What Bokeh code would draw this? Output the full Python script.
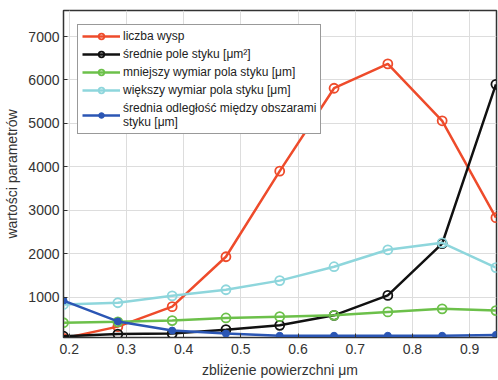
from bokeh.plotting import figure
from bokeh.models import Range1d, FixedTicker
from bokeh.embed import file_html
from bokeh.resources import INLINE

x = [0.19, 0.285, 0.38, 0.474, 0.568, 0.663, 0.757, 0.852, 0.946]
liczba_wysp = [50, 320, 780, 1930, 3900, 5810, 6370, 5060, 2830]
srednie_pole = [100, 150, 160, 250, 350, 580, 1040, 2230, 5900]
mniejszy = [410, 430, 460, 520, 550, 580, 660, 730, 690]
wiekszy = [830, 870, 1030, 1170, 1380, 1700, 2090, 2250, 1680]
odleglosc = [920, 440, 230, 160, 110, 110, 110, 110, 130]

labels = [
    "liczba wysp",
    "średnie pole styku [μm²]",
    "mniejszy wymiar pola styku [μm]",
    "większy wymiar pola styku [μm]",
    "średnia odległość między obszarami\nstyku [μm]",
]
x_ticks = [0.2, 0.3, 0.4, 0.5, 0.6, 0.7, 0.8, 0.9]
y_ticks = [1000, 2000, 3000, 4000, 5000, 6000, 7000]

FONT = "Liberation Sans"

p = figure(width=498, height=380, output_backend="svg", toolbar_location=None,
           x_range=Range1d(0.19, 0.947), y_range=Range1d(70, 7600),
           min_border_left=63, min_border_right=2, min_border_top=10, min_border_bottom=42)

series = [
    (liczba_wysp, "#EE4B2B", "open"),
    (srednie_pole, "#111111", "open"),
    (mniejszy, "#6CC04A", "open"),
    (wiekszy, "#8ED6DC", "open"),
    (odleglosc, "#2B56B4", "filled"),
]
for (ys, col, kind), lab in zip(series, labels):
    p.line(x, ys, line_color=col, line_width=2.5, legend_label=lab)
    if kind == "open":
        p.scatter(x, ys, marker="circle", size=9, line_color=col, line_width=1.8,
                  fill_alpha=0, legend_label=lab)
    else:
        p.scatter(x, ys, marker="circle", size=7, line_color=col, fill_color=col,
                  legend_label=lab)

p.xaxis.ticker = FixedTicker(ticks=x_ticks)
p.yaxis.ticker = FixedTicker(ticks=y_ticks)
p.xaxis.axis_label = "zbliżenie powierzchni μm"
p.yaxis.axis_label = "wartości parametrów"
for ax in (p.xaxis, p.yaxis):
    ax.axis_label_text_font = FONT
    ax.axis_label_text_font_style = "normal"
    ax.axis_label_text_font_size = "14px"
    ax.axis_label_text_color = "#333333"
    ax.major_label_text_font = FONT
    ax.major_label_text_font_size = "14px"
    ax.major_label_text_color = "#333333"
    ax.major_tick_in = 4
    ax.major_tick_out = 0
    ax.minor_tick_in = 0
    ax.minor_tick_out = 0
    ax.axis_line_color = "#333333"
    ax.major_tick_line_color = "#333333"
p.xaxis.axis_label_standoff = 5
p.yaxis.axis_label_standoff = 5
p.xaxis.major_label_standoff = 6
p.yaxis.major_label_standoff = 4

p.grid.grid_line_color = "#DDDDDD"
p.grid.grid_line_width = 1
p.outline_line_color = "#333333"
p.outline_line_width = 1.5

lg = p.legend[0]
lg.location = "top_left"
lg.margin = 14
lg.padding = 4
lg.spacing = 4
lg.glyph_width = 38
lg.glyph_height = 14
lg.label_height = 14
lg.label_standoff = 3
lg.label_text_font = FONT
lg.label_text_font_size = "12px"
lg.label_text_color = "#222222"
lg.border_line_color = "#333333"
lg.border_line_width = 1.2
lg.background_fill_alpha = 1

open("out.html", "w").write(file_html(p, INLINE))
